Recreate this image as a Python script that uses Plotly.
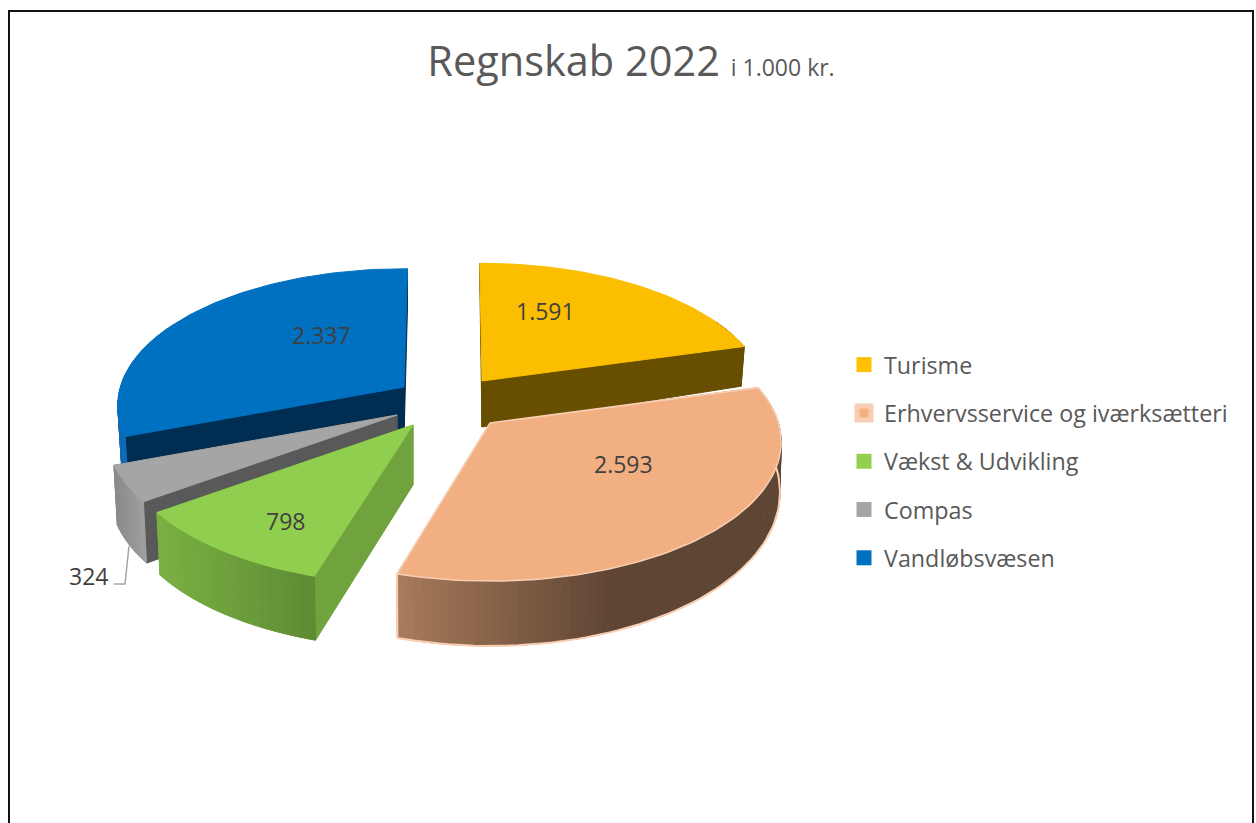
import math
import plotly.graph_objects as go

# ---- data ----
categories = ["Turisme", "Erhvervsservice og iværksætteri", "Vækst & Udvikling", "Compas", "Vandløbsvæsen"]
values = [1591, 2593, 798, 324, 2337]
labels = ["1.591", "2.593", "798", "324", "2.337"]

# ---- style ----
top_colors = ["#FBBE00", "#F1AF82", "#8FCE4E", "#A5A5A5", "#0070C0"]
legend_colors = ["#FFC000", "#F4B183", "#92D050", "#A5A5A5", "#0070C0"]
cut_colors = ["#674E00", "#5F4534", "#70A33E", "#595959", "#002D52"]
wall_left = ["#674E00", "#A87B5A", "#7AB143", "#8A8A8A", "#0F6AB5"]
wall_right = ["#674E00", "#5F4534", "#5E8A33", "#A0A0A0", "#0F6AB5"]
apex_x = [482, 490, 413, 397, 404]
apex_y = [381, 423, 425, 415, 387]
scale = [0.99, 1.012, 1.02, 1.01, 0.995]
depth0 = [46, 48, 60, 58, 50]
depth_e = [0.5, 0.35, 0.07, 0.1, 0.2]
shrink = [0.012, 0.004, 0.012, 0.012, 0.012]
adj_start = [0.0, 0.0, 0.6, 0.0, 0.0]   # drawing tweak of the slice edges, degrees
adj_end = [0.0, -0.3, 0.0, 0.0, 1.3]
label_dx = [-32, 5, -19, -150, 52]
label_dy = [-10, -21, 24, 121, -8]
draw_order = [4, 0, 3, 2, 1]
R, KR, P, ROT = 285.0, 135.0, 0.136, -0.5
TEXT = "#595959"
FONT = "Open Sans"


def hex_mix(a, b, t):
    t = max(0.0, min(1.0, t))
    ca = [int(a[i:i + 2], 16) for i in (1, 3, 5)]
    cb = [int(b[i:i + 2], 16) for i in (1, 3, 5)]
    return "#%02X%02X%02X" % tuple(round(u + (v - u) * t) for u, v in zip(ca, cb))


def project(i, deg, r=1.0):
    """top-face point of slice i at clock angle deg and radius fraction r"""
    a = math.radians(deg)
    X, Y = r * math.sin(a), -r * math.cos(a)
    s = 1.0 / (1.0 - P * Y)
    return apex_x[i] + R * scale[i] * X * s, apex_y[i] + KR * scale[i] * Y * s, Y


def lower(i, px, py, Y):
    """same point, on the lower edge of the slice"""
    d = depth0[i] * (1 + depth_e[i] * Y)
    return px + (apex_x[i] - px) * shrink[i], py + d


total = sum(values)
bounds = [ROT]
for v in values:
    bounds.append(bounds[-1] + 360.0 * v / total)

fig = go.Figure()

# legend entries
for i, name in enumerate(categories):
    outlined = i == 1
    fig.add_trace(go.Scatter(
        x=[None], y=[None], mode="markers", name=name, legendgroup=name, legendrank=i + 1,
        marker=dict(symbol="square", size=14 if outlined else 15, color=legend_colors[i],
                    line=dict(color="#F8CFB4", width=6) if outlined else dict(width=0)),
        hoverinfo="skip"))


def poly(xs, ys, color, line=None, width=1):
    fig.add_trace(go.Scatter(
        x=xs + xs[:1], y=ys + ys[:1], mode="lines", fill="toself", fillcolor=color,
        line=dict(color=line or color, width=width), showlegend=False, hoverinfo="skip"))


for i in draw_order:
    a0, a1 = bounds[i] + adj_start[i], bounds[i + 1] + adj_end[i]
    steps = max(4, int((a1 - a0) / 1.5))
    arc = [a0 + (a1 - a0) * k / steps for k in range(steps + 1)]
    pts = [project(i, a) for a in arc]
    low = [lower(i, *p) for p in pts]
    ax, ay = apex_x[i], apex_y[i]
    adx, ady = lower(i, ax, ay, 0.0)
    outline = "#F9CFB3" if i == 1 else None
    # radial cut faces
    poly([ax, pts[0][0], low[0][0], adx], [ay, pts[0][1], low[0][1], ady], cut_colors[i])
    poly([ax, pts[-1][0], low[-1][0], adx], [ay, pts[-1][1], low[-1][1], ady], cut_colors[i])
    # outer wall, shaded piece by piece across its width
    xs_all = [p[0] for p in pts]
    xmin, xmax = min(xs_all), max(xs_all)
    for k in range(steps):
        if pts[k][2] < -0.45 and pts[k + 1][2] < -0.45:
            continue
        mid = (pts[k][0] + pts[k + 1][0]) / 2
        if i == 1:
            t = (mid - xmin) / (0.55 * (xmax - xmin))
        else:
            t = (mid - xmin) / (xmax - xmin)
        c = hex_mix(wall_left[i], wall_right[i], t)
        poly([pts[k][0], pts[k + 1][0], low[k + 1][0], low[k][0]],
             [pts[k][1], pts[k + 1][1], low[k + 1][1], low[k][1]], c)
    if outline:
        fig.add_trace(go.Scatter(
            x=[p[0] for p in low] + [pts[-1][0]],
            y=[p[1] for p in low] + [pts[-1][1]],
            mode="lines", line=dict(color=outline, width=2), showlegend=False, hoverinfo="skip"))
    # top face
    poly([ax] + [p[0] for p in pts], [ay] + [p[1] for p in pts], top_colors[i], outline, 1.5 if outline else 1)

annotations = []
for i, txt in enumerate(labels):
    px, py, _ = project(i, (bounds[i] + bounds[i + 1]) / 2, 0.6)
    annotations.append(dict(x=px, y=py, xref="x", yref="y", text=txt, showarrow=False,
                            xshift=label_dx[i], yshift=-label_dy[i], xanchor="center", yanchor="middle",
                            font=dict(family=FONT, size=23, color="#404040")))

fig.update_layout(
    width=1256, height=823, margin=dict(l=0, r=0, t=0, b=0),
    paper_bgcolor="white", plot_bgcolor="white",
    title=dict(text='Regnskab 2022 <span style="font-size:23px">i 1.000 kr.</span>',
               x=631 / 1256, xanchor="center", y=1 - 61 / 823, yanchor="middle",
               font=dict(family=FONT, size=41.5, color=TEXT)),
    xaxis=dict(range=[0, 1256], visible=False, fixedrange=True),
    yaxis=dict(range=[823, 0], visible=False, fixedrange=True),
    legend=dict(x=844 / 1256, xanchor="left", y=1 - 343 / 823, yanchor="top",
                font=dict(family=FONT, size=23.3, color=TEXT),
                tracegroupgap=15, itemwidth=30, bgcolor="rgba(0,0,0,0)"),
    annotations=annotations,
    shapes=[
        dict(type="rect", xref="x", yref="y", x0=9, y0=11, x1=1253, y1=900,
             line=dict(color="#111111", width=2), layer="below"),
        dict(type="path", xref="x", yref="y", path="M114,584 L125,584 L129,546",
             line=dict(color="#A6A6A6", width=1.5)),
    ],
)

fig.write_html("out.html", config={"displayModeBar": False},
               post_script="document.body.style.margin='0';document.body.style.overflow='hidden';")
